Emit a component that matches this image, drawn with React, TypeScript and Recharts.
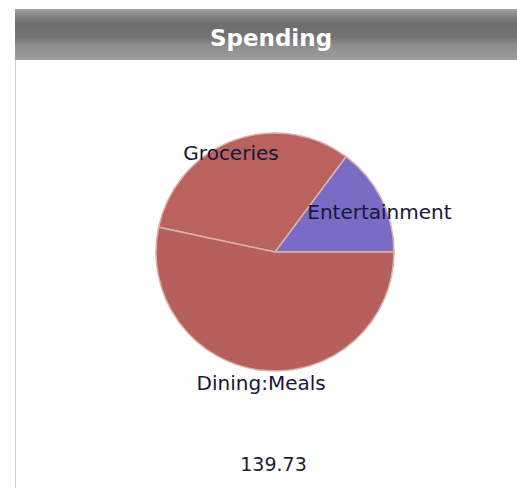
import React from 'react';
import { PieChart, Pie, Cell } from 'recharts';

// slice names and amounts
const categories = ['Entertainment', 'Groceries', 'Dining:Meals'];
const amounts = [20.7, 44.5, 74.53];
const sliceColors = ['#7a6cc4', '#b9625e', '#b65f5c'];

const total = amounts.reduce((s, v) => s + v, 0);
const pieData = categories.map((name, i) => ({ name, value: amounts[i] }));

// where each label sits: share of the radius, and a nudge off the mid angle
const labelRadius = [0.94, 0.91, 1.11];
const labelAngleShift = [-5.7, 3.3, 0];

const RADIAN = Math.PI / 180;

const renderLabel = (props: any) => {
  const { cx, cy, midAngle, outerRadius, index, name } = props;
  const r = outerRadius * labelRadius[index];
  const a = midAngle + labelAngleShift[index];
  const x = cx + r * Math.cos(-a * RADIAN);
  const y = cy + r * Math.sin(-a * RADIAN);
  return (
    <text
      x={x}
      y={y}
      textAnchor="middle"
      dominantBaseline="central"
      fill="#16163a"
      fontSize={20}
      fontFamily="'DejaVu Sans', sans-serif"
    >
      {name}
    </text>
  );
};

export default function App() {
  return (
    <div style={{ position: 'absolute', left: 0, top: 0, width: 517, height: 488, background: '#fff' }}>
      <div
        style={{
          position: 'absolute',
          left: 15,
          top: 9,
          width: 502,
          height: 51,
          background: 'linear-gradient(to bottom, #a4a4a4 0%, #8a8a8a 10%, #6e6e6e 30%, #727272 55%, #8c8c8c 70%, #9e9e9e 100%)',
          color: '#fff',
          fontFamily: "'DejaVu Sans', sans-serif",
          fontWeight: 'bold',
          fontSize: 23,
          lineHeight: '51px',
          paddingTop: 4,
          paddingLeft: 10,
          textAlign: 'center',
          boxSizing: 'border-box',
        }}
      >
        Spending
      </div>
      <div style={{ position: 'absolute', left: 15, top: 60, width: 1, height: 428, background: '#cfcfcf' }} />
      <div style={{ position: 'absolute', left: 0, top: 0 }}>
        <PieChart width={517} height={488} margin={{ top: 0, right: 0, bottom: 0, left: 0 }}>
          <Pie
            data={pieData}
            dataKey="value"
            nameKey="name"
            cx={275}
            cy={252}
            outerRadius={119}
            startAngle={0}
            endAngle={360}
            stroke="#d9b2aa"
            strokeWidth={1.5}
            label={renderLabel}
            labelLine={false}
            isAnimationActive={false}
          >
            {pieData.map((d, i) => (
              <Cell key={d.name} fill={sliceColors[i]} />
            ))}
          </Pie>
        </PieChart>
      </div>
      <div
        style={{
          position: 'absolute',
          left: 0,
          top: 453,
          width: 517,
          paddingLeft: 30,
          boxSizing: 'border-box',
          textAlign: 'center',
          fontFamily: "'DejaVu Sans', sans-serif",
          fontSize: 19,
          color: '#1c1c3c',
        }}
      >
        {total.toFixed(2)}
      </div>
    </div>
  );
}
